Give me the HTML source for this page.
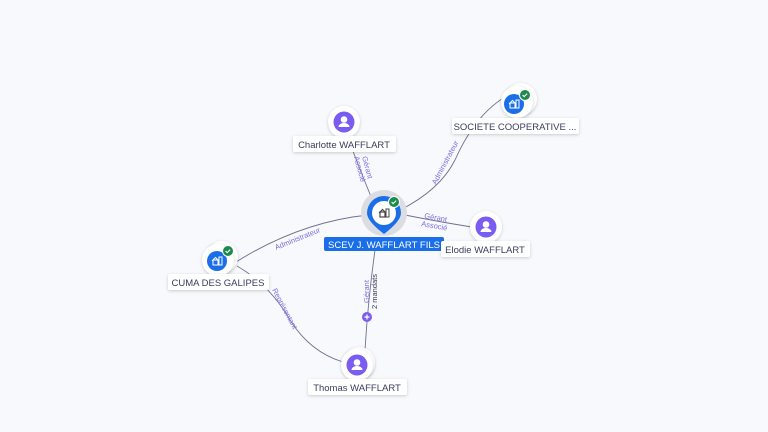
<!DOCTYPE html>
<html><head><style>
body{margin:0;background:#f8f9fc;}
svg{display:block;font-family:"Liberation Sans",sans-serif;}
.lbl{fill:#fff;filter:drop-shadow(0 1px 1.5px rgba(0,0,0,.18));}
.t{font-size:9.5px;fill:#3a3d5c;text-anchor:middle;}
.e{fill:none;stroke:#6e7190;stroke-width:0.9;}
.el{font-size:7.5px;fill:#7b6ee0;}
</style></head><body>
<svg width="768" height="432" viewBox="0 0 768 432">
<defs>
<g id="person"><circle r="10.5" fill="#7b5cf0"/><circle cy="-2.5" r="3.3" fill="#fff"/><path d="M-5.5 5 a5.5 4 0 0 1 11 0z" fill="#fff"/></g>
<g id="chk"><circle r="5.5" fill="#1e8a4c" stroke="#fff" stroke-width="1"/><path d="M-2.4 0 l1.6 1.6 l3-3" stroke="#fff" stroke-width="1.1" fill="none"/></g>
<g id="bld"><rect x="-4" y="-1" width="5" height="5" fill="none" stroke="#fff" stroke-width="1"/><path d="M-5 0 l3.5-3.5 l3.5 3.5" fill="none" stroke="#fff" stroke-width="1"/><rect x="2" y="-4" width="3" height="8" fill="none" stroke="#fff" stroke-width="1"/></g>
</defs>
<path class="e" d="M372 199 Q360 170 348 138"/>
<path class="e" d="M400 210 Q440 190 455 160 Q475 115 505 97"/>
<path class="e" d="M400 214 Q440 222 472 227"/>
<path class="e" d="M368 215 Q300 222 236 262"/>
<path class="e" d="M375 250 Q368 300 365 350"/>
<path class="e" d="M237 266 Q270 285 290 320 Q310 352 343 362"/>
<text class="el" transform="translate(362,157) rotate(75)">Gérant</text>
<text class="el" transform="translate(354,157) rotate(75)">Associé</text>
<text class="el" transform="translate(436,185) rotate(-62)">Administrateur</text>
<text class="el" transform="translate(424,218) rotate(10)">Gérant</text>
<text class="el" transform="translate(421,226) rotate(10)">Associé</text>
<text class="el" transform="translate(276,250) rotate(-22)">Administrateur</text>
<text class="el" transform="translate(272,290) rotate(62)">Représentant</text>
<text class="el" transform="translate(369,303) rotate(-90)">Gérant</text>
<text class="el" transform="translate(377,309) rotate(-90)" style="fill:#3a3d5c">2 mandats</text>
<circle cx="367" cy="317" r="5" fill="#7b5cf0"/><path d="M364.5 317h5M367 314.5v5" stroke="#fff" stroke-width="1.2"/>
<circle cx="384" cy="213" r="23" fill="#dcdde3"/>
<path d="M367 213 a17 17 0 1 1 34 0 q0 8 -17 21 q-17 -13 -17 -21z" fill="#1a6fe8"/>
<circle cx="384" cy="213" r="12" fill="#fff"/>
<g transform="translate(384,213)"><rect x="-4" y="-1" width="5" height="5" fill="none" stroke="#444" stroke-width="1.2"/><path d="M-5 0 l3.5-3.5 l3.5 3.5" fill="none" stroke="#444" stroke-width="1.2"/><rect x="2" y="-4" width="3" height="8" fill="none" stroke="#444" stroke-width="1"/></g>
<use href="#chk" x="394" y="202"/>
<rect x="324" y="237" width="120" height="14" rx="2" fill="#1a6fe8"/>
<text x="384" y="248" font-size="9.5" fill="#fff" text-anchor="middle" textLength="112" lengthAdjust="spacingAndGlyphs">SCEV J. WAFFLART FILS</text>
<circle class="lbl" cx="344" cy="122" r="16"/><use href="#person" x="344" y="122"/>
<rect class="lbl" x="293" y="136" width="103" height="16" rx="2"/>
<text class="t" x="344" y="148">Charlotte WAFFLART</text>
<circle class="lbl" cx="521" cy="99" r="16"/><circle class="lbl" cx="517" cy="102" r="16"/>
<circle cx="514" cy="104" r="10" fill="#1a6fe8"/><use href="#bld" x="514" y="104"/><use href="#chk" x="525" y="95"/>
<rect class="lbl" x="452" y="118" width="127" height="16" rx="2"/>
<text class="t" x="515" y="130">SOCIETE COOPERATIVE ...</text>
<circle class="lbl" cx="486" cy="227" r="16"/><use href="#person" x="486" y="227"/>
<rect class="lbl" x="441" y="241" width="89" height="16" rx="2"/>
<text class="t" x="485" y="253">Elodie WAFFLART</text>
<circle class="lbl" cx="222" cy="257" r="16"/><circle class="lbl" cx="218" cy="260" r="16"/>
<circle cx="217" cy="261" r="10" fill="#1a6fe8"/><use href="#bld" x="217" y="261"/><use href="#chk" x="228" y="251"/>
<rect class="lbl" x="168" y="274" width="101" height="16" rx="2"/>
<text class="t" x="218" y="286">CUMA DES GALIPES</text>
<circle class="lbl" cx="359" cy="363" r="16"/><circle class="lbl" cx="357" cy="365" r="16"/><use href="#person" x="357" y="365"/>
<rect class="lbl" x="308" y="379" width="99" height="16" rx="2"/>
<text class="t" x="357" y="391">Thomas WAFFLART</text>
</svg>
</body></html>
